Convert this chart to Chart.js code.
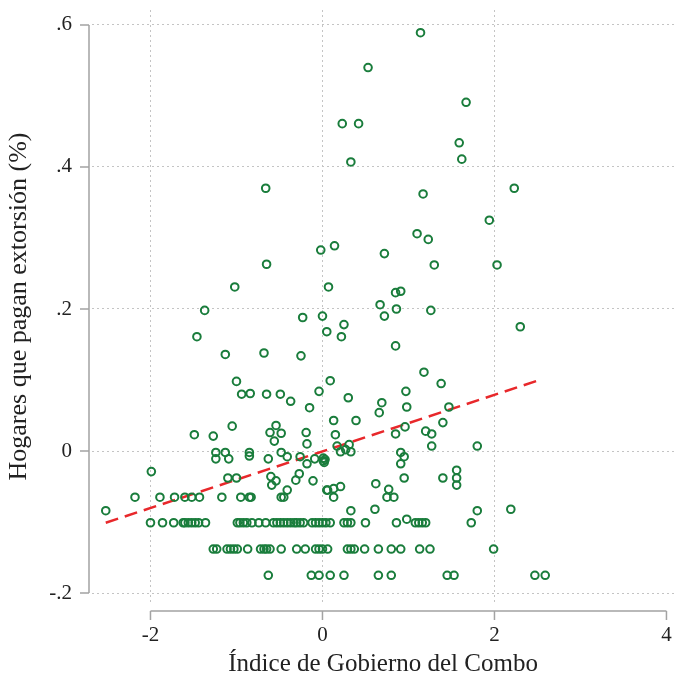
<!DOCTYPE html>
<html>
<head>
<meta charset="utf-8">
<script src="https://cdn.jsdelivr.net/npm/chart.js@4"></script>
<style>
  body { margin: 0; background: #fff; }
  canvas { display: block; }
</style>
</head>
<body>
<canvas id="grafico" width="680" height="679"></canvas>
<script>
// Ticks de los ejes
const xTicks = [-2, 0, 2, 4];
const yTicks = [-0.2, 0, 0.2, 0.4, 0.6];

// Puntos dispersos [indice, hogares]
const puntosAltos = [
    [0.53, 0.540], [0.23, 0.461], [0.42, 0.461], [0.33, 0.407], [-0.66, 0.370], [1.14, 0.589],
    [1.67, 0.491], [1.59, 0.434], [1.62, 0.411], [1.17, 0.362], [2.23, 0.370], [1.94, 0.325],
    [1.10, 0.306], [1.23, 0.298], [0.72, 0.278], [1.30, 0.262], [2.03, 0.262], [0.85, 0.223],
    [0.91, 0.225], [0.67, 0.206], [0.86, 0.200], [0.72, 0.190], [1.26, 0.198], [2.30, 0.175],
    [0.85, 0.148], [1.18, 0.111], [-0.02, 0.283], [0.14, 0.289], [-0.65, 0.263], [-1.02, 0.231],
    [0.07, 0.231], [-1.37, 0.198], [-0.23, 0.188], [0.00, 0.190], [0.25, 0.178], [0.05, 0.168],
    [0.22, 0.161], [-1.46, 0.161], [-1.13, 0.136], [-0.68, 0.138], [-0.25, 0.134]
];
const puntosMedios = [
    [-1.00, 0.098], [0.09, 0.099], [-0.94, 0.080], [-0.84, 0.081], [-0.65, 0.080], [-0.49, 0.080],
    [-0.37, 0.070], [-0.04, 0.084], [-0.15, 0.061], [0.30, 0.075], [0.69, 0.068], [0.66, 0.054],
    [0.13, 0.043], [0.39, 0.043], [1.38, 0.095], [0.97, 0.084], [0.98, 0.062], [1.47, 0.062],
    [1.40, 0.040], [0.15, 0.023], [0.85, 0.024], [0.96, 0.034], [1.20, 0.028], [1.27, 0.024],
    [1.27, 0.007], [1.80, 0.007], [0.17, 0.007], [0.31, 0.009], [-1.49, 0.023], [-1.27, 0.021],
    [-1.05, 0.035], [-0.61, 0.026], [-0.54, 0.036], [-0.48, 0.025], [-0.56, 0.014], [-0.19, 0.026],
    [-0.18, 0.010]
];
const puntosBajos = [
    [-1.24, -0.002], [-1.13, -0.002], [-1.24, -0.011], [-1.09, -0.011], [-0.85, -0.002], [-0.85, -0.007],
    [-0.63, -0.011], [-0.48, -0.002], [-0.41, -0.008], [-0.26, -0.008], [-0.18, -0.018], [-0.09, -0.011],
    [0.01, -0.010], [0.01, -0.014], [0.02, -0.016], [0.03, -0.012], [0.21, -0.001], [0.33, -0.001],
    [0.27, 0.002], [0.91, -0.002], [0.95, -0.008], [0.91, -0.018], [0.95, -0.038], [0.62, -0.046],
    [0.77, -0.054], [0.75, -0.065], [0.83, -0.065], [1.40, -0.038], [1.56, -0.027], [1.56, -0.038],
    [1.56, -0.048], [0.06, -0.055], [0.13, -0.053], [0.21, -0.050], [0.13, -0.065], [0.33, -0.084],
    [0.61, -0.082], [0.98, -0.096], [1.80, -0.084], [2.19, -0.082], [-0.60, -0.036], [-0.54, -0.042],
    [-0.59, -0.048], [-0.31, -0.041], [-0.27, -0.032], [-0.11, -0.042], [-0.41, -0.055], [-0.48, -0.065],
    [-0.45, -0.065], [0.05, -0.055], [-1.10, -0.038], [-1.00, -0.038], [-1.99, -0.029], [-2.52, -0.084]
];

// Filas con el mismo valor de y
const fila065 = [-2.18, -1.89, -1.72, -1.60, -1.52, -1.43, -1.17, -0.95, -0.85, -0.83];
const fila101 = [-2.00, -1.86, -1.73, -1.62, -1.60, -1.56, -1.52, -1.48, -1.44, -1.36, -0.99, -0.96, -0.92,
    -0.88, -0.82, -0.74, -0.66, -0.57, -0.53, -0.49, -0.45, -0.41, -0.37, -0.33, -0.30, -0.26, -0.22,
    -0.12, -0.08, -0.04, 0.00, 0.04, 0.09, 0.25, 0.29, 0.33, 0.50, 0.86, 1.08, 1.12, 1.16, 1.20, 1.73];
const fila138 = [-1.27, -1.23, -1.11, -1.07, -1.03, -0.99, -0.87, -0.72, -0.68, -0.65, -0.61, -0.48,
    -0.30, -0.20, -0.08, -0.04, 0.00, 0.06, 0.29, 0.33, 0.37, 0.49, 0.65, 0.80, 0.91, 1.13, 1.25, 1.99];
const fila175 = [-0.63, -0.13, -0.04, 0.09, 0.25, 0.65, 0.80, 1.45, 1.53, 2.47, 2.59];

// Recta de ajuste (extremos)
const ajusteX = [-2.52, 2.55];
const ajusteY = [-0.101, 0.101];

const puntos = [...puntosAltos, ...puntosMedios, ...puntosBajos].map(p => ({ x: p[0], y: p[1] }))
    .concat(fila065.map(x => ({ x, y: -0.065 })))
    .concat(fila101.map(x => ({ x, y: -0.101 })))
    .concat(fila138.map(x => ({ x, y: -0.138 })))
    .concat(fila175.map(x => ({ x, y: -0.175 })));

const fuente = "'Liberation Serif', 'Times New Roman', serif";
const grisEje = '#a3a3a3';
const grisGrid = '#c4c4c4';
const colorTexto = '#222';

const fmt = v => v === 0 ? '0' : String(Math.round(v * 10) / 10).replace('0.', '.');

// Ejes estilo Stata, separados del area del grafico, con sus etiquetas
const ejesStata = {
    id: 'ejesStata',
    afterDraw(chart) {
        const { ctx, chartArea, scales: { x, y } } = chart;
        ctx.save();
        ctx.strokeStyle = grisEje;
        ctx.lineWidth = 1.5;
        const ax = chartArea.left - 3;
        ctx.beginPath();
        ctx.moveTo(ax, y.getPixelForValue(yTicks[yTicks.length - 1]));
        ctx.lineTo(ax, y.getPixelForValue(yTicks[0]));
        yTicks.forEach(v => {
            const py = y.getPixelForValue(v);
            ctx.moveTo(ax, py);
            ctx.lineTo(ax - 9, py);
        });
        const ay = chartArea.bottom + 8;
        ctx.moveTo(x.getPixelForValue(xTicks[0]), ay);
        ctx.lineTo(x.getPixelForValue(xTicks[xTicks.length - 1]), ay);
        xTicks.forEach(v => {
            const px = x.getPixelForValue(v);
            ctx.moveTo(px, ay);
            ctx.lineTo(px, ay + 9);
        });
        ctx.stroke();

        ctx.fillStyle = colorTexto;
        ctx.font = '21px ' + fuente;
        ctx.textAlign = 'right';
        ctx.textBaseline = 'middle';
        yTicks.forEach(v => ctx.fillText(fmt(v), ax - 17, y.getPixelForValue(v)));
        ctx.textAlign = 'center';
        ctx.textBaseline = 'middle';
        xTicks.forEach(v => ctx.fillText(fmt(v), x.getPixelForValue(v), ay + 24));
        ctx.restore();
    }
};

new Chart(document.getElementById('grafico'), {
    type: 'scatter',
    data: {
        datasets: [{
            data: puntos,
            pointRadius: 3.8,
            pointHoverRadius: 3.8,
            pointBorderWidth: 2,
            borderColor: '#1a7d3c',
            backgroundColor: 'rgba(0,0,0,0)'
        }, {
            type: 'line',
            data: ajusteX.map((x, i) => ({ x, y: ajusteY[i] })),
            borderColor: '#e8282b',
            borderWidth: 2.5,
            borderDash: [13, 7],
            pointRadius: 0,
            fill: false
        }]
    },
    options: {
        responsive: false,
        animation: false,
        devicePixelRatio: 1,
        layout: { padding: { top: 10, right: 0, left: 0, bottom: 0 } },
        plugins: { legend: { display: false }, tooltip: { enabled: false } },
        scales: {
            x: {
                type: 'linear',
                min: -2.68,
                max: 4.09,
                afterBuildTicks: s => { s.ticks = xTicks.map(v => ({ value: v })); },
                afterFit: s => { s.height = 76; },
                grid: {
                    drawTicks: false,
                    lineWidth: 1,
                    color: c => c.tick && c.tick.value === 4 ? 'rgba(0,0,0,0)' : grisGrid
                },
                border: { display: false, dash: [2, 3] },
                ticks: { display: false },
                title: { display: true, text: 'Índice de Gobierno del Combo', color: colorTexto, font: { family: fuente, size: 25 }, padding: { top: 0, bottom: 0 } }
            },
            y: {
                type: 'linear',
                min: -0.214,
                max: 0.621,
                afterBuildTicks: s => { s.ticks = yTicks.map(v => ({ value: v })); },
                afterFit: s => { s.width = 92; },
                grid: { drawTicks: false, lineWidth: 1, color: grisGrid },
                border: { display: false, dash: [2, 3] },
                ticks: { display: false },
                title: { display: true, text: 'Hogares que pagan extorsión (%)', color: colorTexto, font: { family: fuente, size: 26 }, padding: { top: 4, bottom: 0 } }
            }
        }
    },
    plugins: [ejesStata]
});
</script>
</body>
</html>
